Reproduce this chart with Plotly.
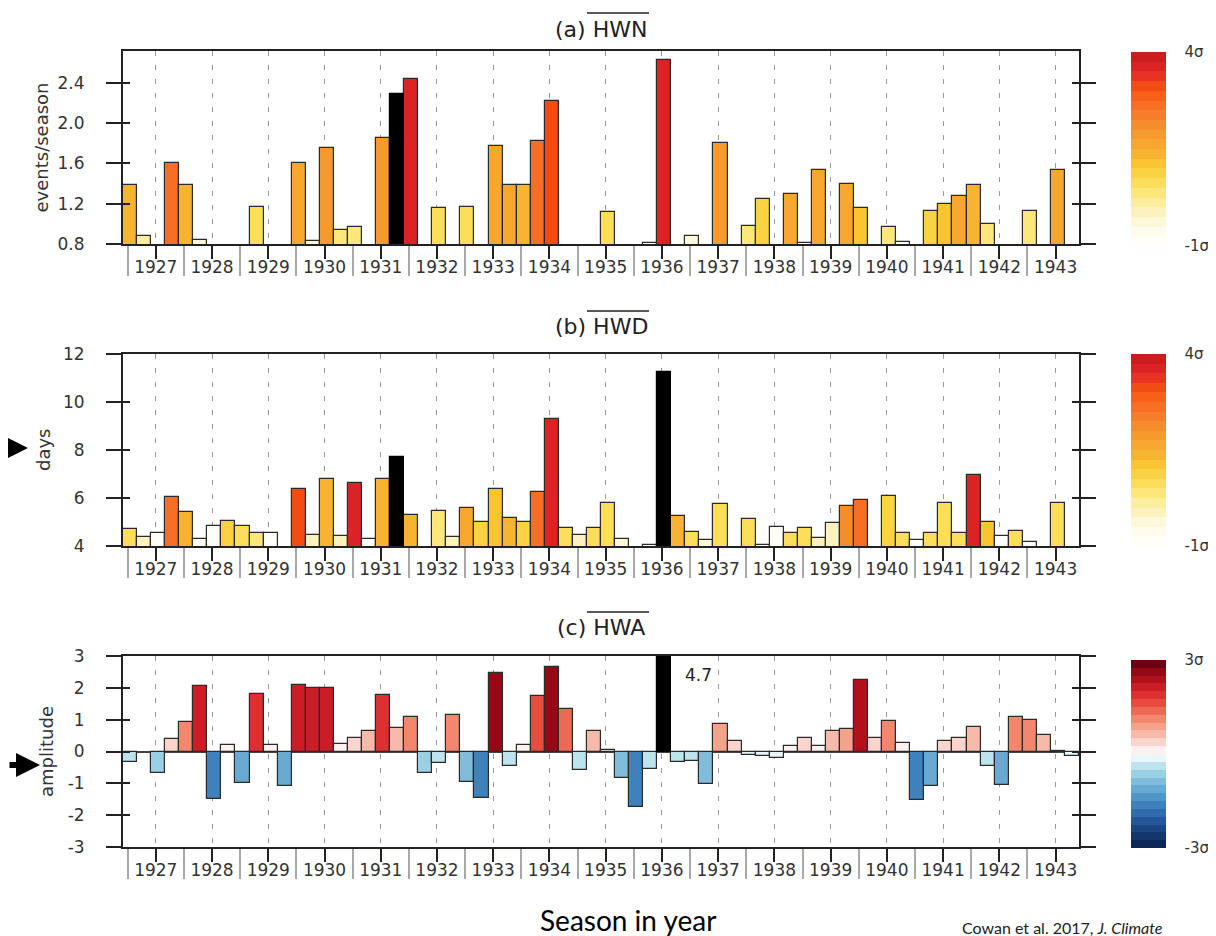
import plotly.graph_objects as go

W, H = 1216, 936

# ---------------- data ----------------
years = list(range(1927, 1944))
season_names = ["DJF", "MAM", "JJA", "SON"]
first_year = 1926
first_season = 2          # series starts with JJA 1926
n_seasons = 68

# (a) HWN  events/season
hwn = [1.39, 0.88, None, 1.60, 1.39, 0.84, None, None,
       None, 1.17, None, None, 1.60, 0.83, 1.75, 0.94,
       0.97, None, 1.85, 2.29, 2.44, None, 1.16, None,
       1.17, None, 1.77, 1.39, 1.39, 1.82, 2.22, None,
       None, None, 1.12, None, None, 0.81, 2.63, None,
       0.88, None, 1.80, None, 0.98, 1.25, None, 1.30,
       0.81, 1.53, None, 1.40, 1.16, None, 0.97, 0.82,
       None, 1.13, 1.20, 1.28, 1.39, 1.00, None, None,
       1.13, None, 1.53, None]
hwn_sigma = [1.3, 0.1, None, 2.6, 1.3, -0.3, None, None,
             None, 0.6, None, None, 1.7, -0.3, 1.8, 0.4,
             0.4, None, 1.8, 3.3, 3.6, None, 0.6, None,
             0.6, None, 1.7, 1.6, 1.3, 2.6, 3.1, None,
             None, None, 0.5, None, None, -0.8, 3.7, None,
             -0.3, None, 1.8, None, 0.3, 0.9, None, 1.7,
             -0.8, 1.7, None, 1.6, 1.0, None, 0.3, -0.8,
             None, 0.8, 1.0, 1.6, 1.4, 0.3, None, None,
             0.4, None, 1.5, None]
hwn_black = ["MAM 1931"]

# (b) HWD  days
hwd = [4.70, 4.36, 4.56, 6.06, 5.43, 4.29, 4.83, 5.06,
       4.83, 4.56, 4.53, None, 6.38, 4.46, 6.80, 4.42,
       6.61, 4.29, 6.80, 7.69, 5.29, None, 5.47, 4.39,
       5.57, 5.02, 6.38, 5.15, 5.02, 6.24, 9.30, 4.74,
       4.46, 4.74, 5.78, 4.29, None, 4.04, 11.27, 5.27,
       4.60, 4.25, 5.74, None, 5.13, 4.05, 4.78, 4.53,
       4.76, 4.35, 4.95, 5.68, 5.92, None, 6.10, 4.56,
       4.25, 4.53, 5.78, 4.53, 6.96, 4.99, 4.43, 4.64,
       4.18, None, 5.78, None]
hwd_sigma = [0.6, -0.2, -0.8, 2.6, 1.4, -0.9, -0.8, 0.8,
             0.7, 0.3, -0.8, None, 3.1, -0.2, 1.4, -0.2,
             3.6, -0.9, 1.4, 3.8, 1.3, None, 0.3, -0.2,
             1.6, 0.9, 1.0, 1.3, 0.9, 2.6, 3.7, 0.6,
             -0.2, 0.5, 0.6, -0.3, None, -0.9, 4.0, 1.4,
             0.6, -0.3, 0.6, None, 0.7, -0.9, -0.8, 0.6,
             0.6, -0.2, -0.1, 2.0, 2.6, None, 0.8, 0.6,
             -0.8, 0.6, 0.6, 0.6, 3.7, 1.0, -0.8, 0.6,
             -0.8, None, 0.6, None]
hwd_black = ["MAM 1931", "DJF 1936"]

# (c) HWA  amplitude
hwa = [-0.32, None, -0.68, 0.40, 0.93, 2.05, -1.50, 0.19,
       -1.00, 1.82, 0.19, -1.07, 2.08, 1.98, 2.00, 0.24,
       0.42, 0.63, 1.79, 0.74, 1.08, -0.68, -0.37, 1.16,
       -0.95, -1.47, 2.47, -0.44, 0.21, 1.74, 2.65, 1.32,
       -0.58, 0.65, 0.05, -0.84, -1.74, -0.55, 4.7, -0.32,
       -0.29, -1.02, 0.86, 0.32, -0.10, -0.15, -0.21, 0.18,
       0.42, 0.16, 0.63, 0.71, 2.26, 0.42, 0.97, 0.26,
       -1.53, -1.08, 0.32, 0.42, 0.76, -0.47, -1.05, 1.08,
       1.00, 0.53, 0.03, -0.15]
hwa_sigma = [-0.3, None, -0.7, 0.3, 1.0, 2.1, -1.6, 0.05,
             -1.2, 1.8, 0.05, -1.1, 2.2, 2.1, 2.1, 0.05,
             0.3, 0.6, 1.8, 0.7, 1.0, -0.7, -0.4, 1.1,
             -1.0, -1.6, 2.6, -0.3, 0.05, 1.7, 2.7, 1.3,
             -0.4, 0.6, 0.0, -0.8, -1.6, -0.4, 4.7, -0.3,
             -0.3, -1.0, 0.8, 0.3, -0.1, -0.1, -0.15, 0.15,
             0.35, 0.1, 0.7, 0.8, 2.4, 0.35, 1.1, 0.15,
             -1.6, -1.1, 0.3, 0.4, 0.7, -0.4, -1.1, 1.1,
             1.0, 0.5, 0.0, -0.1]
hwa_black = ["DJF 1936"]

# ---------------- helpers ----------------
season_labels, season_x = [], []
for k in range(n_seasons):
    idx = first_season + k
    yr = first_year + idx // 4
    s = idx % 4
    season_labels.append(f"{season_names[s]} {yr}")
    season_x.append(yr + s * 0.25 + 1 / 24)


def hex2rgb(h):
    h = h.lstrip("#")
    return tuple(int(h[i:i + 2], 16) for i in (0, 2, 4))


def discrete_scale(anchors, vmin, vmax, nbins):
    vals = [a[0] for a in anchors]
    cols = [hex2rgb(a[1]) for a in anchors]

    def interp(v):
        if v <= vals[0]:
            return cols[0]
        for i in range(len(vals) - 1):
            if vals[i] <= v <= vals[i + 1]:
                t = (v - vals[i]) / (vals[i + 1] - vals[i])
                return tuple(cols[i][j] + t * (cols[i + 1][j] - cols[i][j]) for j in range(3))
        return cols[-1]

    sc = []
    for i in range(nbins):
        mid = vmin + (i + 0.5) * (vmax - vmin) / nbins
        r, g, b = interp(mid)
        c = f"rgb({int(r)},{int(g)},{int(b)})"
        sc.append([i / nbins, c])
        sc.append([(i + 1) / nbins, c])
    return sc


heat_anchors = [(-1.0, "#ffffff"), (-0.5, "#fffbe8"), (0.0, "#fdf0b0"), (0.5, "#fde468"),
                (1.0, "#fbcd35"), (1.5, "#f8ac30"), (2.0, "#f6952e"), (2.5, "#f7762c"),
                (3.0, "#f8590f"), (3.5, "#e3262a"), (4.0, "#c41a1a")]
heat_scale = discrete_scale(heat_anchors, -1, 4, 20)

rdbu_anchors = [(-3.0, "#08214d"), (-2.5, "#163d78"), (-2.0, "#2a62a6"), (-1.5, "#468cc4"),
                (-1.0, "#74b4d8"), (-0.5, "#a6dae7"), (-0.25, "#d4eff5"), (0.0, "#ffffff"),
                (0.25, "#fde4e0"), (0.5, "#f9c6ba"), (1.0, "#f4977c"), (1.5, "#ec5a46"),
                (2.0, "#d8232a"), (2.5, "#a60c18"), (3.0, "#5a0010")]
rdbu_scale = discrete_scale(rdbu_anchors, -3, 3, 24)


def pxx(p):
    return p / W


def pxy(p):
    return 1 - p / H


X0, X1 = 115, 1071
panels = [  # (top px, bottom px)
    (43, 236),
    (346, 538),
    (648, 839),
]

AX = "#222222"
TXT = "#333333"
FONT = "DejaVu Sans"

fig = go.Figure()

series = [
    (hwn, hwn_sigma, hwn_black, "coloraxis"),
    (hwd, hwd_sigma, hwd_black, "coloraxis2"),
    (hwa, hwa_sigma, hwa_black, "coloraxis3"),
]

for p, (vals, sig, black, cax) in enumerate(series):
    xa = "x" if p == 0 else f"x{p + 1}"
    ya = "y" if p == 0 else f"y{p + 1}"
    xs, ys, cs = [], [], []
    bx, by = [], []
    for k in range(n_seasons):
        if vals[k] is None:
            continue
        if season_labels[k] in black:
            bx.append(season_x[k])
            by.append(vals[k])
        else:
            xs.append(season_x[k])
            ys.append(vals[k])
            cs.append(sig[k] if sig[k] is not None else 0)
    fig.add_trace(go.Bar(x=xs, y=ys, width=0.25, xaxis=xa, yaxis=ya,
                         marker=dict(color=cs, coloraxis=cax,
                                     line=dict(color="#2a2a2a", width=1.2)),
                         showlegend=False, hoverinfo="skip"))
    fig.add_trace(go.Bar(x=bx, y=by, width=0.25, xaxis=xa, yaxis=ya,
                         marker=dict(color="black", line=dict(color="black", width=1.2)),
                         showlegend=False, hoverinfo="skip"))
    # dummy trace for overlay (inside ticks) axis
    fig.add_trace(go.Scatter(x=[None], y=[None], xaxis=xa, yaxis=f"y{p + 4}",
                             showlegend=False, hoverinfo="skip"))

y_specs = [
    dict(range=[0.8, 2.715], tickvals=[0.8, 1.2, 1.6, 2.0, 2.4],
         ticktext=["0.8", "1.2", "1.6", "2.0", "2.4"]),
    dict(range=[4, 12], tickvals=[4, 6, 8, 10, 12], ticktext=["4", "6", "8", "10", "12"]),
    dict(range=[-3, 3], tickvals=[-3, -2, -1, 0, 1, 2, 3],
         ticktext=["-3", "-2", "-1", "0", "1", "2", "3"]),
]

layout = dict(
    width=W, height=H, margin=dict(l=0, r=0, t=0, b=0),
    paper_bgcolor="white", plot_bgcolor="white",
    barmode="overlay", bargap=0, showlegend=False, hovermode=False,
    font=dict(family=FONT, color=TXT),
)

for p, (top, bot) in enumerate(panels):
    sfx = "" if p == 0 else str(p + 1)
    dom_y = [pxy(bot), pxy(top)]
    layout["xaxis" + sfx] = dict(
        domain=[pxx(X0), pxx(X1)], anchor="y" + sfx,
        range=[1926 + 5 / 12, 1943 + 5 / 12],
        tickmode="array", tickvals=years, ticktext=[str(y) for y in years],
        ticks="outside", ticklen=13, tickwidth=2, tickcolor=AX,
        tickfont=dict(family=FONT, size=17, color=TXT),
        ticklabelstandoff=-6,
        showgrid=True, gridcolor="#9a9a9a", gridwidth=1.3, griddash="5px,9px",
        showline=True, linecolor=AX, linewidth=2, mirror=True,
        zeroline=False, automargin=False,
        minor=dict(tickmode="array", tickvals=[y - 0.5 for y in years],
                   ticks="outside", ticklen=30, tickwidth=1.5, tickcolor="#a8a8a8",
                   showgrid=False),
    )
    spec = y_specs[p]
    layout["yaxis" + sfx] = dict(
        domain=dom_y, anchor="x" + sfx, range=spec["range"],
        tickmode="array", tickvals=spec["tickvals"], ticktext=spec["ticktext"],
        ticks="outside", ticklen=15, tickwidth=2, tickcolor=AX,
        tickfont=dict(family=FONT, size=17, color=TXT),
        ticklabelstandoff=18,
        showline=True, linecolor=AX, linewidth=2, mirror="ticks",
        showgrid=False, automargin=False,
        zeroline=(p == 2), zerolinecolor="#444444", zerolinewidth=1.5,
    )
    layout[f"yaxis{p + 4}"] = dict(
        overlaying="y" + sfx, anchor="x" + sfx, side="left", range=spec["range"],
        tickmode="array", tickvals=spec["tickvals"], showticklabels=False,
        ticks="inside", ticklen=7, tickwidth=2, tickcolor=AX,
        showline=True, linecolor=AX, linewidth=2, mirror="ticks",
        showgrid=False, zeroline=False, automargin=False,
    )

cb_common = dict(thickness=35, thicknessmode="pixels", outlinewidth=0,
                 x=pxx(1123), xanchor="left", xpad=0, ypad=0, lenmode="fraction",
                 ticks="outside", ticklen=16, tickcolor="rgba(0,0,0,0)",
                 tickfont=dict(family=FONT, size=15, color=TXT))
layout["coloraxis"] = dict(colorscale=heat_scale, cmin=-1, cmax=4,
                           colorbar=dict(**cb_common, y=pxy(141), yanchor="middle",
                                         len=194 / H, tickvals=[-1, 4], ticktext=["-1σ", "4σ"]))
layout["coloraxis2"] = dict(colorscale=heat_scale, cmin=-1, cmax=4,
                            colorbar=dict(**cb_common, y=pxy(442), yanchor="middle",
                                          len=192 / H, tickvals=[-1, 4], ticktext=["-1σ", "4σ"]))
layout["coloraxis3"] = dict(colorscale=rdbu_scale, cmin=-3, cmax=3,
                            colorbar=dict(**cb_common, y=pxy(746), yanchor="middle",
                                          len=188 / H, tickvals=[-3, 3], ticktext=["-3σ", "3σ"]))

fig.update_layout(**layout)

annotations = []
titles = [("(a) HWN", 21), ("(b) HWD", 318), ("(c) HWA", 619)]
for t, yc in titles:
    annotations.append(dict(text=t, x=pxx(593), y=pxy(yc), xref="paper", yref="paper",
                            xanchor="center", yanchor="middle", showarrow=False,
                            font=dict(family=FONT, size=22, color="#222")))
ytitles = [("events/season", 33, 139.5), ("days", 35, 442), ("amplitude", 38, 744)]
for t, xc, yc in ytitles:
    annotations.append(dict(text=t, x=pxx(xc), y=pxy(yc), xref="paper", yref="paper",
                            xanchor="center", yanchor="middle", showarrow=False, textangle=-90,
                            font=dict(family=FONT, size=18, color=TXT)))

# value label of the clipped record bar in (c)
k_rec = season_labels.index(hwa_black[0])
annotations.append(dict(text=f"{hwa[k_rec]:.1f}", x=season_x[k_rec], y=2.4, xref="x3", yref="y3",
                        xshift=34, showarrow=False,
                        font=dict(family=FONT, size=17, color="#222")))

# arrows on the left
annotations.append(dict(text="", x=pxx(20), y=pxy(440), xref="paper", yref="paper",
                        ax=-40, ay=0, showarrow=True, arrowhead=2, arrowsize=0.9,
                        arrowwidth=6, arrowcolor="black"))
annotations.append(dict(text="", x=pxx(32), y=pxy(757), xref="paper", yref="paper",
                        ax=-40, ay=0, showarrow=True, arrowhead=2, arrowsize=0.8,
                        arrowwidth=6, arrowcolor="black"))

annotations.append(dict(text="Season in year", x=pxx(620), y=pxy(912), xref="paper", yref="paper",
                        xanchor="center", yanchor="middle", showarrow=False,
                        font=dict(family="Lato", size=28, color="black")))
annotations.append(dict(text="Cowan et al. 2017, <i>J. Climate</i>", x=pxx(952), y=pxy(931),
                        xref="paper", yref="paper", xanchor="left", yanchor="bottom",
                        showarrow=False, font=dict(family="Lato", size=16, color="#222")))

fig.update_layout(annotations=annotations)

# overlines on the index names
shapes = []
for yline in (5, 303, 604):
    shapes.append(dict(type="line", xref="paper", yref="paper",
                       x0=pxx(579), x1=pxx(641), y0=pxy(yline), y1=pxy(yline),
                       line=dict(color="#222", width=1.5)))
fig.update_layout(shapes=shapes)

fig.write_html("out.html")
